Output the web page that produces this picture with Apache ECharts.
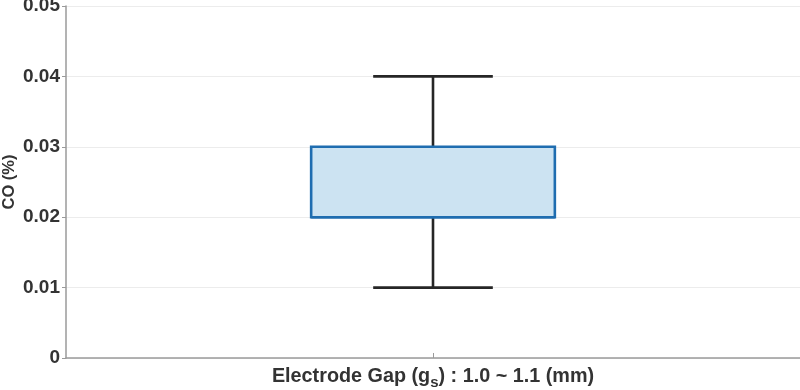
<!DOCTYPE html>
<html>
<head>
<meta charset="utf-8">
<script src="https://cdn.jsdelivr.net/npm/echarts@6/dist/echarts.min.js"></script>
<style>html,body{margin:0;padding:0;background:#fff}#c{width:800px;height:390px}</style>
</head>
<body>
<div id="c"></div>
<script>
var categories = ['Electrode Gap (gs) : 1.0 ~ 1.1 (mm)'];
var whiskerLow = [0.01];
var q1 = [0.02];
var median = [0.02];
var q3 = [0.03];
var whiskerHigh = [0.04];
var yTicks = [0, 0.01, 0.02, 0.03, 0.04, 0.05];

var data = categories.map(function (c, i) {
  return [i, whiskerLow[i], q1[i], median[i], q3[i], whiskerHigh[i]];
});

var chart = echarts.init(document.getElementById('c'), null, {renderer: 'canvas'});
var font = 'Liberation Sans, Arial, sans-serif';
chart.setOption({
  animation: false,
  grid: {left: 66, right: 0, top: 6, bottom: 32, containLabel: false, outerBoundsMode: 'none'},
  xAxis: {
    type: 'category',
    data: categories,
    boundaryGap: true,
    axisLine: {lineStyle: {color: '#9a9a9a', width: 1.5}},
    axisTick: {show: true, inside: true, alignWithLabel: true, length: 5, lineStyle: {color: '#9a9a9a'}},
    axisLabel: {
      margin: 8,
      formatter: function () {
        return '{a|Electrode Gap (g}{s|s}{a|) : 1.0 ~ 1.1 (mm)}';
      },
      rich: {
        a: {fontFamily: font, fontWeight: 'bold', fontSize: 19.8, color: '#333', lineHeight: 22},
        s: {fontFamily: font, fontWeight: 'bold', fontSize: 15, color: '#333', padding: [11, 0, 0, 0], lineHeight: 22}
      }
    },
    splitLine: {show: false}
  },
  yAxis: {
    type: 'value',
    min: yTicks[0],
    max: yTicks[yTicks.length - 1],
    interval: 0.01,
    name: 'CO (%)',
    nameLocation: 'middle',
    nameGap: 48,
    nameRotate: 90,
    nameMoveOverlap: false,
    nameTextStyle: {fontFamily: font, fontWeight: 'bold', fontSize: 16.5, color: '#333'},
    axisLine: {show: true, lineStyle: {color: '#9a9a9a', width: 1.5}},
    axisTick: {show: true, length: 4, lineStyle: {color: '#9a9a9a'}},
    axisLabel: {fontFamily: font, fontWeight: 'bold', fontSize: 19, color: '#333', margin: 6},
    splitLine: {show: true, lineStyle: {color: '#ececec', width: 1}}
  },
  series: [{
    type: 'custom',
    data: data,
    encode: {x: 0, y: [1, 2, 3, 4, 5]},
    renderItem: function (params, api) {
      var idx = api.value(0);
      var pLow = api.coord([idx, api.value(1)]);
      var pQ1 = api.coord([idx, api.value(2)]);
      var pMed = api.coord([idx, api.value(3)]);
      var pQ3 = api.coord([idx, api.value(4)]);
      var pHigh = api.coord([idx, api.value(5)]);
      var band = api.size([1, 0])[0];
      var boxW = band * 0.332;
      var capW = band * 0.163;
      var cx = pQ1[0];
      var wStyle = {stroke: '#262626', lineWidth: 2.6};
      return {
        type: 'group',
        children: [
          {type: 'line', shape: {x1: cx, y1: pLow[1], x2: cx, y2: pQ1[1]}, style: wStyle},
          {type: 'line', shape: {x1: cx, y1: pQ3[1], x2: cx, y2: pHigh[1]}, style: wStyle},
          {type: 'line', shape: {x1: cx - capW / 2, y1: pLow[1], x2: cx + capW / 2, y2: pLow[1]}, style: wStyle},
          {type: 'line', shape: {x1: cx - capW / 2, y1: pHigh[1], x2: cx + capW / 2, y2: pHigh[1]}, style: wStyle},
          {type: 'rect', shape: {x: cx - boxW / 2, y: pQ3[1], width: boxW, height: pQ1[1] - pQ3[1]},
            style: {fill: '#cce3f2', stroke: '#1f6db0', lineWidth: 2.6}},
          {type: 'line', shape: {x1: cx - boxW / 2, y1: pMed[1], x2: cx + boxW / 2, y2: pMed[1]},
            style: {stroke: '#1f6db0', lineWidth: 2.6}}
        ]
      };
    }
  }]
});
</script>
</body>
</html>
